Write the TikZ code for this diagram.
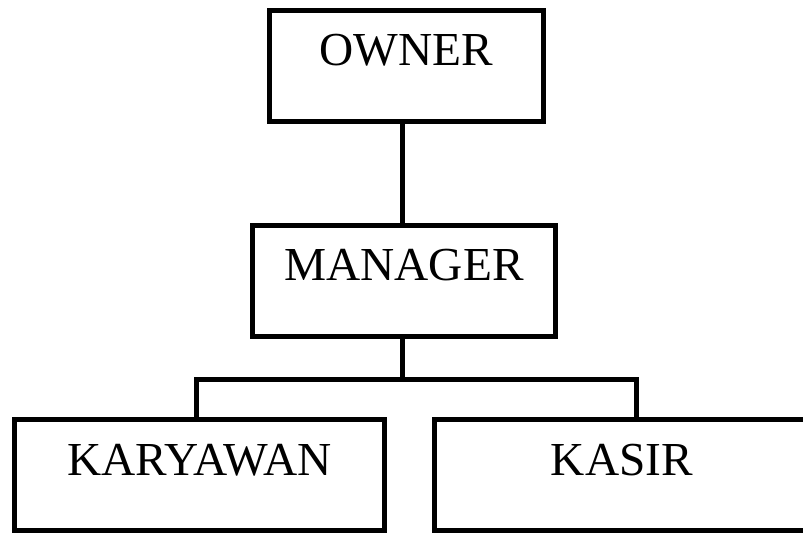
\documentclass[tikz,border=0pt]{standalone}
\usepackage{fontspec}
\setmainfont{Liberation Serif}

\begin{document}
\begin{tikzpicture}[x=0.75pt, y=-0.75pt,
	jabatan/.style={shape=rectangle, draw=black, line width=3.75pt, inner sep=0pt, text height=41.6pt, text depth=41.6pt, font=\fontsize{35.5}{40}\selectfont},
	garis/.style={draw=black, line width=3.75pt}]
	\clip (0,0) rectangle (803,534);
	% kotak jabatan
	\node[jabatan, minimum width=205.5pt] (owner) at (406.5,66) {OWNER};
	\node[jabatan, minimum width=227.25pt] (manager) at (404,281) {MANAGER};
	\node[jabatan, minimum width=277.5pt] (karyawan) at (199.5,475) {KARYAWAN};
	\node[jabatan, minimum width=281.25pt] (kasir) at (622,475) {KASIR};
	% garis penghubung
	\coordinate (cabang) at (402.5,380);
	\coordinate (kiri) at (196,380);
	\coordinate (kanan) at (636,380);
	\draw[garis] (owner.south -| cabang) -- (manager.north -| cabang);
	\draw[garis] (manager.south -| cabang) -- (cabang);
	\draw[garis] (kiri |- karyawan.north) -- (kiri) -- (kanan) -- (kanan |- kasir.north);
\end{tikzpicture}
\end{document}
